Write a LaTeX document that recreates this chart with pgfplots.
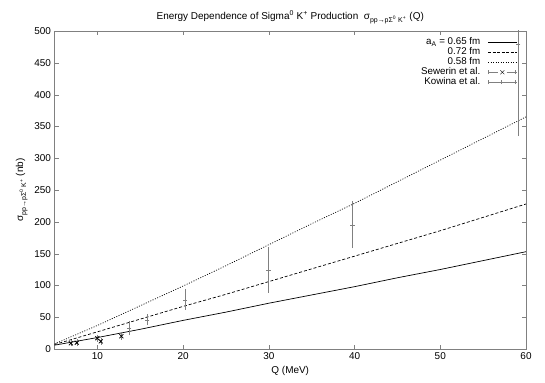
\documentclass[border=0pt]{standalone}
\usepackage{fontspec}
\setmainfont{Liberation Sans}
\usepackage{pgfplots}
\pgfplotsset{compat=1.18}

\pgfplotstableread{
Q     s
5     6
10    18
15    31
20    45
25    58
30    72
35    85
40    98
45    112
50    125
55    139
60    153
}\curveA
\pgfplotstableread{
Q     s
5     7
10    27
15    47
20    67
25    86
30    106
35    126
40    146
45    166
50    186
55    207
60    228
}\curveB
\pgfplotstableread{
Q     s
5     8
10    37
15    68
20    99
25    131
30    164
35    197
40    229
45    263
50    297
55    331
60    365
}\curveC
\pgfplotstableread{
Q     s    e
4.9   6.3  2
6.9   9    1.5
7.6   10   1.5
10.0  17   2
10.4  12   2
12.8  20   2
}\sewerin
\pgfplotstableread{
Q      s    lo   hi
13.7   33   8    8
15.8   46   5    5
20.2   77   12   14
29.95  124  32   33
39.75  195  33   34
59.1   480  142  142
}\kowina

\begin{document}
\fontsize{10}{12}\selectfont
\begin{tikzpicture}
\begin{axis}[scale only axis, width=471.5bp, height=318bp,
  xmin=5, xmax=60, ymin=0, ymax=500,
  xtick={10,20,...,60}, ytick={0,50,...,500},
  tick align=inside, major tick length=4bp,
  axis line style={gray}, tick style={gray},
  /pgf/number format/assume math mode=true,
  tick label style={font=\fontsize{10}{12}\selectfont},
  title={Energy Dependence of Sigma\textsuperscript{0} K\textsuperscript{+} Production\ \ σ\textsubscript{pp→pΣ\textsuperscript{0} K\textsuperscript{+}} (Q)},
  title style={yshift=-2bp},
  xlabel={Q (MeV)},
  ylabel={σ\textsubscript{pp→pΣ\textsuperscript{0} K\textsuperscript{+}} (nb)},
  legend style={draw=none, fill=none, at={(1,1)}, anchor=north east,
    xshift=-9bp, yshift=-6bp, row sep=0pt, column sep=7bp, inner sep=0pt,
    nodes={inner sep=0.6bp, text height=7bp, text depth=1.8bp},
    font=\fontsize{9.8}{11}\selectfont},
  legend cell align=right, legend plot pos=right,
]
\addplot[black, line width=0.7bp, legend image code/.code={\draw[black,line width=0.6bp] (0,0)--(1cm,0);}] table[x=Q,y=s] {\curveA};
\addlegendentry{a\textsubscript{A} = 0.65 fm}
\addplot[black, line width=0.7bp, dash pattern=on 3bp off 2bp, legend image code/.code={\draw[black,line width=0.6bp,dash pattern=on 3bp off 1.5bp] (0,0)--(1cm,0);}] table[x=Q,y=s] {\curveB};
\addlegendentry{0.72 fm}
\addplot[black, line width=0.7bp, dash pattern=on 1bp off 1.5bp, legend image code/.code={\draw[black,line width=0.5bp,dash pattern=on 1bp off 1.5bp] (0,0)--(1cm,0);}] table[x=Q,y=s] {\curveC};
\addlegendentry{0.58 fm}
\addplot[black, only marks, mark=x, mark size=2.8bp, mark options={line width=0.8bp},
  legend image code/.code={
    \draw[gray] (0,0)--(0.35cm,0) (0.65cm,0)--(1cm,0);
    \draw[gray] (0,-2bp)--(0,2bp) (1cm,-2bp)--(1cm,2bp);
    \draw[black] (0.5cm,0) +(-2bp,-2bp)--+(2bp,2bp) +(-2bp,2bp)--+(2bp,-2bp);},
  error bars/.cd, y dir=both, y explicit,
  error bar style={gray, line width=0.6bp}, error mark options={gray, mark size=2.2bp}]
  table[x=Q, y=s, y error=e] {\sewerin};
\addlegendentry{Sewerin et al.}
\addplot[gray, only marks, mark=-, mark size=2.2bp,
  legend image code/.code={
    \draw[gray] (0,0)--(1cm,0);
    \draw[gray] (0,-2bp)--(0,2bp) (0.5cm,-2bp)--(0.5cm,2bp) (1cm,-2bp)--(1cm,2bp);},
  error bars/.cd, y dir=both, y explicit,
  error bar style={gray, line width=0.6bp}, error mark options={gray, mark size=2.2bp}]
  table[x=Q, y=s, y error plus=hi, y error minus=lo] {\kowina};
\addlegendentry{Kowina et al.}
\end{axis}
\pgfresetboundingbox
\path ([shift={(-54.5bp,-33bp)}]current axis.south west) rectangle ([shift={(19bp,31bp)}]current axis.north east);
\end{tikzpicture}
\end{document}
